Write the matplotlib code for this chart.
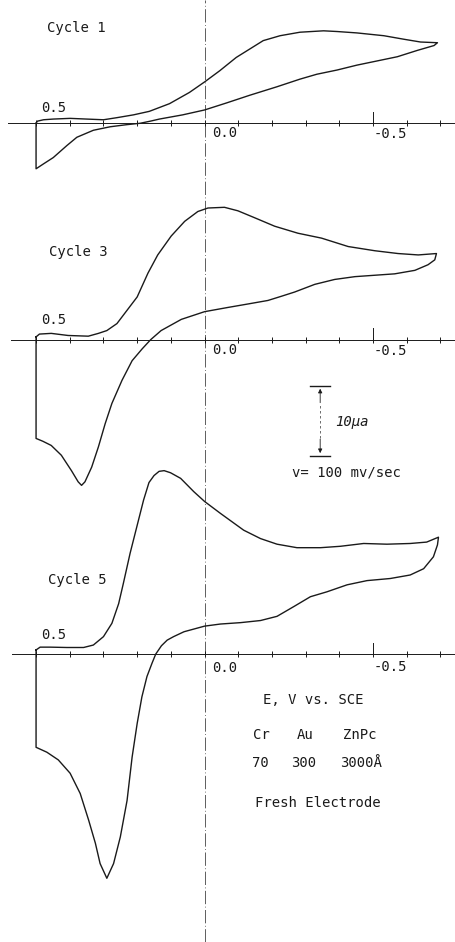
import matplotlib
matplotlib.use("Agg")
import matplotlib.pyplot as plt
import numpy as np

# ---------------- data (E in V vs SCE, current in microamps, cathodic up) -------------
cycle1_E = [0.5, 0.496, 0.478, 0.449, 0.399, 0.35, 0.3, 0.26, 0.211, 0.164, 0.104, 0.045, 0.0,
            -0.045, -0.094, -0.134, -0.174, -0.224, -0.283, -0.353, -0.393, -0.452, -0.532,
            -0.591, -0.641, -0.691,
            -0.681, -0.631, -0.572, -0.512, -0.452, -0.393, -0.333, -0.283, -0.214, -0.134,
            -0.065, 0.0, 0.065, 0.134, 0.161, 0.191, 0.231, 0.28, 0.33, 0.379, 0.409, 0.449,
            0.478, 0.5, 0.5]
cycle1_I = [0.0, 0.3, 0.5, 0.6, 0.7, 0.6, 0.5, 0.8, 1.2, 1.7, 2.8, 4.4, 5.9,
            7.5, 9.4, 10.6, 11.8, 12.5, 13.0, 13.2, 13.1, 12.9, 12.5,
            12.0, 11.6, 11.5,
            11.1, 10.4, 9.5, 8.9, 8.3, 7.6, 7.0, 6.3, 5.2, 4.0,
            2.9, 1.9, 1.2, 0.6, 0.3, 0.0, -0.2, -0.5, -1.0, -2.0, -3.2, -4.9,
            -5.8, -6.5, 0.0]

cycle3_E = [0.5, 0.49, 0.455, 0.405, 0.345, 0.315, 0.29, 0.26, 0.2, 0.168, 0.139, 0.099, 0.059,
            0.02, -0.01, -0.059, -0.099, -0.149, -0.208, -0.277, -0.347, -0.426, -0.505,
            -0.574, -0.634, -0.688,
            -0.683, -0.663, -0.624, -0.564, -0.505, -0.446, -0.386, -0.327, -0.267, -0.228,
            -0.188, -0.129, -0.069, 0.0, 0.069, 0.129, 0.16, 0.185, 0.215, 0.245, 0.275,
            0.295, 0.315, 0.335, 0.355, 0.365, 0.375, 0.395, 0.425, 0.455, 0.48, 0.5, 0.5]
cycle3_I = [0.4, 0.8, 0.9, 0.6, 0.5, 0.9, 1.3, 2.3, 6.1, 9.5, 12.1, 14.8, 16.9,
            18.3, 18.8, 18.9, 18.4, 17.4, 16.2, 15.2, 14.5, 13.3, 12.7,
            12.3, 12.1, 12.3,
            11.4, 10.7, 9.9, 9.4, 9.2, 9.0, 8.6, 7.9, 6.8, 6.2,
            5.6, 5.1, 4.6, 4.0, 2.9, 1.3, 0.0, -1.3, -3.0, -5.8, -9.1,
            -12.0, -15.3, -18.2, -20.3, -20.8, -20.3, -18.7, -16.5, -15.1, -14.5, -14.1, 0.4]

cycle5_E = [0.5, 0.488, 0.458, 0.409, 0.359, 0.33, 0.3, 0.275, 0.255, 0.241, 0.221, 0.201,
            0.181, 0.165, 0.15, 0.135, 0.12, 0.101, 0.071, 0.032, 0.0, -0.047, -0.116,
            -0.166, -0.215, -0.274, -0.344, -0.403, -0.472, -0.541, -0.61, -0.659, -0.694,
            -0.691, -0.679, -0.65, -0.61, -0.551, -0.482, -0.423, -0.363, -0.314, -0.265,
            -0.215, -0.166, -0.107, -0.047, 0.0, 0.061, 0.092, 0.111, 0.128, 0.145, 0.156,
            0.171, 0.186, 0.2, 0.215, 0.23, 0.25, 0.27, 0.29, 0.31, 0.324, 0.344, 0.369,
            0.399, 0.434, 0.468, 0.5, 0.5]
cycle5_I = [0.6, 1.0, 1.0, 0.95, 0.95, 1.3, 2.5, 4.4, 7.2, 10.1, 14.4, 18.2,
            22.0, 24.5, 25.5, 26.1, 26.2, 25.9, 25.1, 23.2, 21.8, 20.1, 17.7,
            16.5, 15.7, 15.2, 15.2, 15.4, 15.8, 15.7, 15.8, 16.0, 16.7,
            15.6, 13.9, 12.2, 11.3, 10.8, 10.5, 9.9, 8.9, 8.2, 6.8,
            5.4, 4.8, 4.5, 4.3, 4.0, 3.2, 2.5, 2.0, 1.2, 0.0, -1.3,
            -3.2, -6.1, -9.9, -14.7, -20.9, -26.1, -29.9, -32.0, -29.9, -27.0, -23.7, -19.9,
            -17.0, -15.1, -14.0, -13.3, 0.6]

tick_E = [0.5, 0.4, 0.3, 0.2, 0.1, 0.0, -0.1, -0.2, -0.3, -0.4, -0.5, -0.6, -0.7]
cycle_labels = ["Cycle 1", "Cycle 3", "Cycle 5"]
axis_labels = ["0.5", "0.0", "-0.5"]
scale_bar_uA = 10.0

# ---------------- layout ----------------
W, H = 456, 942
offsets = [75.8, 44.9, 0.0]          # vertical offset of each cycle's zero line (uA)

fig = plt.figure(figsize=(W / 100, H / 100), dpi=100)
ax = fig.add_axes([0, 0, 1, 1])
ax.set_xlim(0.607, -0.746)
ax.set_ylim(-41.1, 93.4)
ax.axis("off")

ink = "#1a1a1a"
font = dict(family=["DejaVu Sans Mono", "DejaVu Sans"], color=ink)


def fp(x, y):
    return x / W, 1 - y / H


curves = [(cycle1_E, cycle1_I), (cycle3_E, cycle3_I), (cycle5_E, cycle5_I)]
axis_left = [0.583, 0.575, 0.57]
for (E, I), off, xl in zip(curves, offsets, axis_left):
    ax.plot([xl, -0.746], [off, off], color=ink, lw=0.7, zorder=2)
    ax.plot(tick_E, [off] * len(tick_E), ls="none", marker="|", ms=4.5,
            mew=0.7, color=ink, zorder=2)
    ax.plot([-0.5, -0.5], [off, off + 1.6], color=ink, lw=0.7)
    ax.plot(E, np.array(I) + off, color=ink, lw=1.0, zorder=3,
            solid_joinstyle="round")

# dash-dot vertical line at 0.0 V
ax.axvline(0.0, color="#444444", lw=0.6, dashes=(16, 3, 1, 3), zorder=1)

# scale bar (10 uA)
sx, bot = -0.343, 28.3
top = bot + scale_bar_uA
ax.plot([sx - 0.03, sx + 0.03], [top, top], color=ink, lw=1.0)
ax.plot([sx - 0.03, sx + 0.03], [bot, bot], color=ink, lw=1.0)
ax.plot([sx, sx], [bot + 2.5, top - 2.5], color="#555555", lw=0.6, dashes=(3, 3))
ax.annotate("", xy=(sx, top), xytext=(sx, top - 2.8),
            arrowprops=dict(arrowstyle="-|>", color=ink, lw=0.6, mutation_scale=6))
ax.annotate("", xy=(sx, bot), xytext=(sx, bot + 2.8),
            arrowprops=dict(arrowstyle="-|>", color=ink, lw=0.6, mutation_scale=6))

# text
fs = 10
for lab, (x, y) in zip(cycle_labels, [(47, 28), (49, 252), (48, 580)]):
    fig.text(*fp(x, y), lab, fontsize=fs, va="center", ha="left", **font)

for y05, y00, y50 in [(108, 133, 134), (320, 350, 351), (635, 668, 667)]:
    fig.text(*fp(41, y05), axis_labels[0], fontsize=fs, va="center", **font)
    fig.text(*fp(212, y00), axis_labels[1], fontsize=fs, va="center", **font)
    fig.text(*fp(374, y50), axis_labels[2], fontsize=fs, va="center", **font)

fig.text(*fp(335, 422), "10μa", fontsize=fs, va="center", style="italic", **font)
fig.text(*fp(292, 472), "v= 100 mv/sec", fontsize=fs, va="center", **font)
fig.text(*fp(263, 700), "E, V vs. SCE", fontsize=fs, va="center", **font)
for s, x in zip(["Cr", "Au", "ZnPc"], [253, 297, 343]):
    fig.text(*fp(x, 735), s, fontsize=fs, va="center", **font)
for s, x in zip(["70", "300", "3000Å"], [252, 291, 340]):
    fig.text(*fp(x, 763), s, fontsize=fs, va="center", **font)
fig.text(*fp(255, 803), "Fresh Electrode", fontsize=fs, va="center", **font)

fig.savefig("out.png", dpi=100, facecolor="white")
